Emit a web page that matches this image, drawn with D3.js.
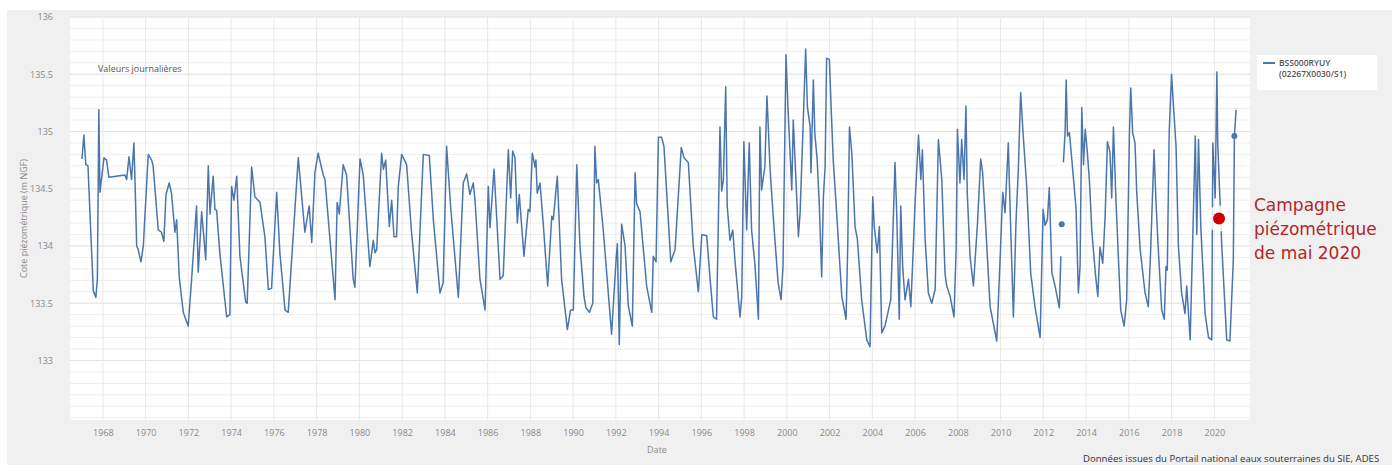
<!DOCTYPE html>
<html><head><meta charset="utf-8">
<script src="https://cdn.jsdelivr.net/npm/d3@7"></script>
<style>body{margin:0;background:#fff}svg{display:block}</style>
</head><body><svg id="c" width="1392" height="465"></svg>
<script>
// ---- data (decimal year, level m NGF) ----
const seriesYears = [
1967.02,1967.11,1967.20,1967.30,1967.55,1967.67,1967.74,1967.81,1967.86,1968.05,1968.17,1968.28,1969.03,1969.11,1969.22,1969.34,1969.45,1969.50,1969.58,1969.65,1969.78,1969.89,
1970.12,1970.28,1970.35,1970.59,1970.74,1970.85,1970.95,1971.10,1971.21,1971.37,1971.45,1971.57,1971.76,1971.99,1972.15,1972.38,1972.46,1972.62,1972.81,1972.93,1973.01,1973.16,1973.24,1973.32,1973.47,1973.79,1973.94,
1974.02,1974.13,1974.26,1974.41,1974.68,1974.75,1974.96,1975.11,1975.35,1975.58,1975.74,1975.89,1976.13,1976.28,1976.52,1976.67,1977.14,1977.45,1977.65,1977.77,1977.92,1978.07,1978.31,1978.39,1978.86,1978.96,1979.06,1979.24,1979.40,1979.71,1979.79,
1980.03,1980.18,1980.49,1980.65,1980.73,1980.81,1981.04,1981.12,1981.23,1981.40,1981.51,1981.62,1981.74,1981.82,1981.98,1982.21,1982.44,1982.71,1982.99,1983.27,1983.46,1983.77,1983.92,1984.08,1984.27,1984.63,1984.86,1985.02,1985.17,1985.33,1985.41,1985.64,1985.88,
1986.03,1986.11,1986.30,1986.58,1986.73,1986.97,1987.08,1987.17,1987.28,1987.39,1987.48,1987.70,1987.90,1987.98,1988.09,1988.22,1988.26,1988.32,1988.45,1988.60,1988.81,1989.00,1989.07,1989.26,1989.46,1989.73,1989.88,
1990.01,1990.17,1990.32,1990.51,1990.60,1990.76,1990.92,1991.02,1991.10,1991.18,1991.41,1991.80,1992.01,1992.07,1992.16,1992.27,1992.43,1992.58,1992.77,1992.90,1992.97,1993.13,1993.44,1993.68,1993.75,1993.88,1993.99,
1994.14,1994.25,1994.57,1994.77,1995.06,1995.19,1995.39,1995.62,1995.86,1996.02,1996.25,1996.41,1996.56,1996.71,1996.79,1996.87,1996.95,1997.03,1997.14,1997.21,1997.34,1997.47,1997.57,1997.81,1997.89,1997.99,
1998.12,1998.24,1998.35,1998.51,1998.67,1998.74,1998.82,1998.97,1999.07,1999.21,1999.35,1999.59,1999.73,1999.82,1999.96,2000.05,2000.23,2000.30,2000.43,2000.54,2000.62,2000.77,2000.88,2000.96,
2001.09,2001.13,2001.24,2001.31,2001.42,2001.52,2001.63,2001.71,2001.79,2001.86,2001.99,2002.07,2002.17,2002.33,2002.57,2002.77,2002.85,2002.93,2003.04,2003.19,2003.30,2003.50,2003.74,2003.89,
2004.02,2004.09,2004.23,2004.33,2004.44,2004.59,2004.86,2004.98,2005.06,2005.14,2005.26,2005.33,2005.42,2005.53,2005.69,2005.80,2005.92,2006.00,2006.16,2006.27,2006.34,2006.47,2006.62,2006.78,2006.94,
2007.09,2007.25,2007.40,2007.48,2007.64,2007.82,2007.92,2007.98,2008.10,2008.18,2008.29,2008.38,2008.44,2008.57,2008.73,2008.92,2009.07,2009.16,2009.27,2009.51,2009.82,2009.97,
2010.10,2010.21,2010.36,2010.47,2010.60,2010.72,2010.83,2010.94,2011.06,2011.22,2011.41,2011.61,2011.85,2011.99,2012.08,2012.19,2012.28,2012.40,2012.55,2012.75,2012.82];
const seriesLevels = [
134.76,134.97,134.71,134.70,133.61,133.55,133.71,135.19,134.47,134.77,134.75,134.60,134.62,134.58,134.78,134.58,134.90,134.58,134.00,133.97,133.86,134.00,
134.80,134.75,134.70,134.14,134.12,134.04,134.45,134.55,134.46,134.12,134.23,133.73,133.42,133.30,133.71,134.35,133.77,134.30,133.88,134.70,134.28,134.61,134.32,134.31,133.94,133.38,133.40,
134.52,134.40,134.61,133.91,133.51,133.50,134.69,134.43,134.38,134.08,133.62,133.63,134.47,133.94,133.44,133.42,134.77,134.12,134.35,134.03,134.64,134.81,134.62,134.58,133.53,134.38,134.28,134.71,134.62,133.71,133.64,
134.76,134.62,133.82,134.05,133.94,133.97,134.81,134.67,134.75,134.17,134.40,134.08,134.08,134.52,134.80,134.71,134.12,133.59,134.80,134.79,134.23,133.59,133.68,134.87,134.34,133.55,134.55,134.63,134.45,134.55,134.40,133.71,133.44,
134.52,134.16,134.67,133.71,133.74,134.84,134.42,134.83,134.77,134.20,134.45,133.91,134.32,134.30,134.81,134.69,134.75,134.46,134.55,134.20,133.65,134.26,134.23,134.61,133.71,133.27,133.44,
133.44,134.71,134.00,133.56,133.46,133.42,133.50,134.87,134.55,134.58,134.14,133.23,133.88,134.02,133.14,134.19,134.00,133.48,133.30,134.64,134.37,134.30,133.65,133.42,133.91,133.86,134.95,
134.95,134.87,133.86,133.97,134.86,134.77,134.73,134.00,133.60,134.10,134.09,133.71,133.38,133.36,134.15,135.04,134.48,134.58,135.39,134.35,134.05,134.14,133.88,133.38,133.56,134.91,
134.14,134.90,134.14,133.83,133.36,135.04,134.49,134.69,135.31,134.69,134.29,133.68,133.53,133.82,135.67,135.22,134.49,135.10,134.56,134.08,134.29,135.10,135.72,135.22,
135.04,134.64,135.45,134.98,134.75,134.35,133.73,134.43,134.69,135.64,135.63,135.22,134.75,134.29,133.56,133.36,134.00,135.04,134.81,134.17,134.06,133.53,133.18,133.12,
134.43,134.17,133.94,134.17,133.24,133.30,133.53,134.23,134.73,134.29,133.36,134.35,133.82,133.53,133.71,133.47,134.00,134.38,134.97,134.58,134.84,134.06,133.59,133.50,133.62,
134.93,134.58,133.76,133.65,133.56,133.38,133.97,135.02,134.55,134.93,134.58,135.22,134.47,133.91,133.65,134.20,134.76,134.64,134.29,133.47,133.17,133.85,
134.47,134.29,134.90,134.17,133.38,134.20,134.67,135.34,134.96,134.53,133.76,133.47,133.20,134.32,134.18,134.23,134.51,133.77,133.65,133.46,133.91];
const laterYears = [
2012.94,2013.02,2013.07,2013.13,2013.22,2013.33,2013.41,2013.53,2013.64,2013.72,2013.80,2013.88,2013.96,2014.06,2014.16,2014.27,2014.43,2014.55,2014.65,2014.78,2014.89,
2015.00,2015.12,2015.20,2015.28,2015.40,2015.51,2015.62,2015.78,2015.90,2016.03,2016.09,2016.18,2016.29,2016.37,2016.53,2016.76,2016.91,
2017.02,2017.18,2017.27,2017.38,2017.54,2017.66,2017.74,2017.80,2017.89,2018.00,2018.11,2018.21,2018.32,2018.47,2018.63,2018.71,2018.87,
2019.03,2019.11,2019.18,2019.26,2019.37,2019.57,2019.73,2019.88,2019.93,2020.04,2020.12,2020.16,2020.35,2020.58,2020.73,2020.89,2020.94,2021.02];
const laterLevels = [
134.73,135.00,135.45,134.96,134.99,134.76,134.59,134.33,133.59,133.82,135.21,134.71,135.02,134.82,134.56,134.13,133.77,133.56,133.99,133.85,134.25,
134.91,134.82,134.42,135.04,134.39,133.91,133.44,133.30,133.53,134.99,135.38,134.99,134.90,134.47,133.97,133.59,133.47,
133.95,134.84,134.39,133.97,133.44,133.36,133.82,133.79,135.00,135.50,135.16,134.87,134.00,133.59,133.41,133.65,133.18,
134.35,134.96,134.10,134.93,134.16,133.41,133.20,133.18,134.90,134.42,135.52,134.90,134.00,133.18,133.17,133.88,134.96,135.19];
const isolatedYears = [2012.86];
const isolatedLevels = [134.19];
const markedYears = [2020.94];
const markedLevels = [134.96];
const campaignPoint = [2020.22, 134.24];
const yTickValues = [133, 133.5, 134, 134.5, 135, 135.5, 136];
const xTickValues = d3.range(1968, 2021, 2);
const seriesName = ["BSS000RYUY", "(02267X0030/S1)"];
const noteLines = ["Campagne", "piézométrique", "de mai 2020"];

// ---- drawing ----
const svg = d3.select("#c");
const W = 1392, H = 465;
const L = 70, R = 1250, T = 17, B = 420;
const x = d3.scaleLinear().domain([1966.46, 2021.67]).range([L, R]);
const y = d3.scaleLinear().domain([132.48, 136]).range([B, T]);
const lineColor = "#4a76ad";
const font = "'Open Sans', 'DejaVu Sans', sans-serif";

svg.append("rect").attr("x", 7).attr("y", 10).attr("width", W - 7).attr("height", H - 10).attr("fill", "#f0f0f0");
svg.append("rect").attr("x", L).attr("y", T).attr("width", R - L).attr("height", B - T).attr("fill", "#fff");

// grid
const minor = d3.range(132.5, 136.001, 0.1);
svg.append("g").selectAll("line").data(minor).join("line")
  .attr("x1", L).attr("x2", R).attr("y1", d => y(d)).attr("y2", d => y(d))
  .attr("stroke", "#eeeeee").attr("stroke-width", 1);
svg.append("g").selectAll("line").data(yTickValues).join("line")
  .attr("x1", L).attr("x2", R).attr("y1", d => y(d)).attr("y2", d => y(d))
  .attr("stroke", "#e4e4e4").attr("stroke-width", 1);
svg.append("g").selectAll("line").data(xTickValues).join("line")
  .attr("x1", d => x(d)).attr("x2", d => x(d)).attr("y1", T).attr("y2", B)
  .attr("stroke", "#e8e8e8").attr("stroke-width", 1);

// axes
const yAxis = d3.axisLeft(y).tickValues(yTickValues).tickFormat(d3.format("~g")).tickSize(0).tickPadding(0);
const gy = svg.append("g").attr("transform", `translate(${L - 17},0)`).call(yAxis);
gy.select(".domain").remove();
gy.selectAll("text").attr("font-family", font).attr("font-size", 9).attr("fill", "#8a8a8a");

const xAxis = d3.axisBottom(x).tickValues(xTickValues).tickFormat(d3.format("d")).tickSize(0).tickPadding(0);
const gx = svg.append("g").attr("transform", `translate(0,${B + 10})`).call(xAxis);
gx.select(".domain").remove();
gx.selectAll("text").attr("font-family", font).attr("font-size", 9).attr("fill", "#8a8a8a");

svg.append("text").attr("x", 657).attr("y", 453).attr("text-anchor", "middle")
  .attr("font-family", font).attr("font-size", 9).attr("fill", "#8a8a8a").text("Date");
svg.append("text").attr("transform", `translate(27,${(T + B) / 2}) rotate(-90)`).attr("text-anchor", "middle")
  .attr("font-family", font).attr("font-size", 9).attr("fill", "#8a8a8a").text("Cote piézométrique (m NGF)");

svg.append("text").attr("x", 98).attr("y", 72).attr("font-family", font).attr("font-size", 9)
  .attr("fill", "#555").text("Valeurs journalières");

// series
const line = d3.line().x(d => x(d[0])).y(d => y(d[1]));
const s1 = seriesYears.map((t, i) => [t, seriesLevels[i]]);
const s2 = laterYears.map((t, i) => [t, laterLevels[i]]);
svg.append("path").datum(s1).attr("d", line).attr("fill", "none").attr("stroke", lineColor).attr("stroke-width", 1.5).attr("stroke-linejoin", "round");
svg.append("path").datum(s2).attr("d", line).attr("fill", "none").attr("stroke", lineColor).attr("stroke-width", 1.5).attr("stroke-linejoin", "round");
svg.append("g").selectAll("circle").data(isolatedYears.map((t, i) => [t, isolatedLevels[i]]).concat(markedYears.map((t, i) => [t, markedLevels[i]])))
  .join("circle").attr("cx", d => x(d[0])).attr("cy", d => y(d[1])).attr("r", 3).attr("fill", lineColor);

// legend
svg.append("rect").attr("x", 1257).attr("y", 55).attr("width", 120).attr("height", 35).attr("fill", "#fff");
svg.append("line").attr("x1", 1263).attr("x2", 1275).attr("y1", 63).attr("y2", 63).attr("stroke", lineColor).attr("stroke-width", 2);
svg.append("g").selectAll("text").data(seriesName).join("text")
  .attr("x", 1279).attr("y", (d, i) => 66 + i * 11).attr("font-family", font).attr("font-size", 8.5)
  .attr("font-weight", 600).attr("fill", "#555").text(d => d);

// campaign annotation
svg.append("circle").attr("cx", x(campaignPoint[0])).attr("cy", y(campaignPoint[1])).attr("r", 13).attr("fill", "#fff").attr("opacity", 0.85);
svg.append("circle").attr("cx", x(campaignPoint[0])).attr("cy", y(campaignPoint[1])).attr("r", 6).attr("fill", "#d10000");
svg.append("g").selectAll("text").data(noteLines).join("text")
  .attr("x", 1254).attr("y", (d, i) => 211 + i * 24).attr("font-family", "'DejaVu Sans', sans-serif").attr("font-size", 17)
  .attr("fill", "#b3262a").text(d => d);

// footer
svg.append("text").attr("x", 1083).attr("y", 462).attr("font-family", font).attr("font-size", 9.6)
  .attr("fill", "#333").text("Données issues du Portail national eaux souterraines du SIE, ADES");
</script></body></html>
